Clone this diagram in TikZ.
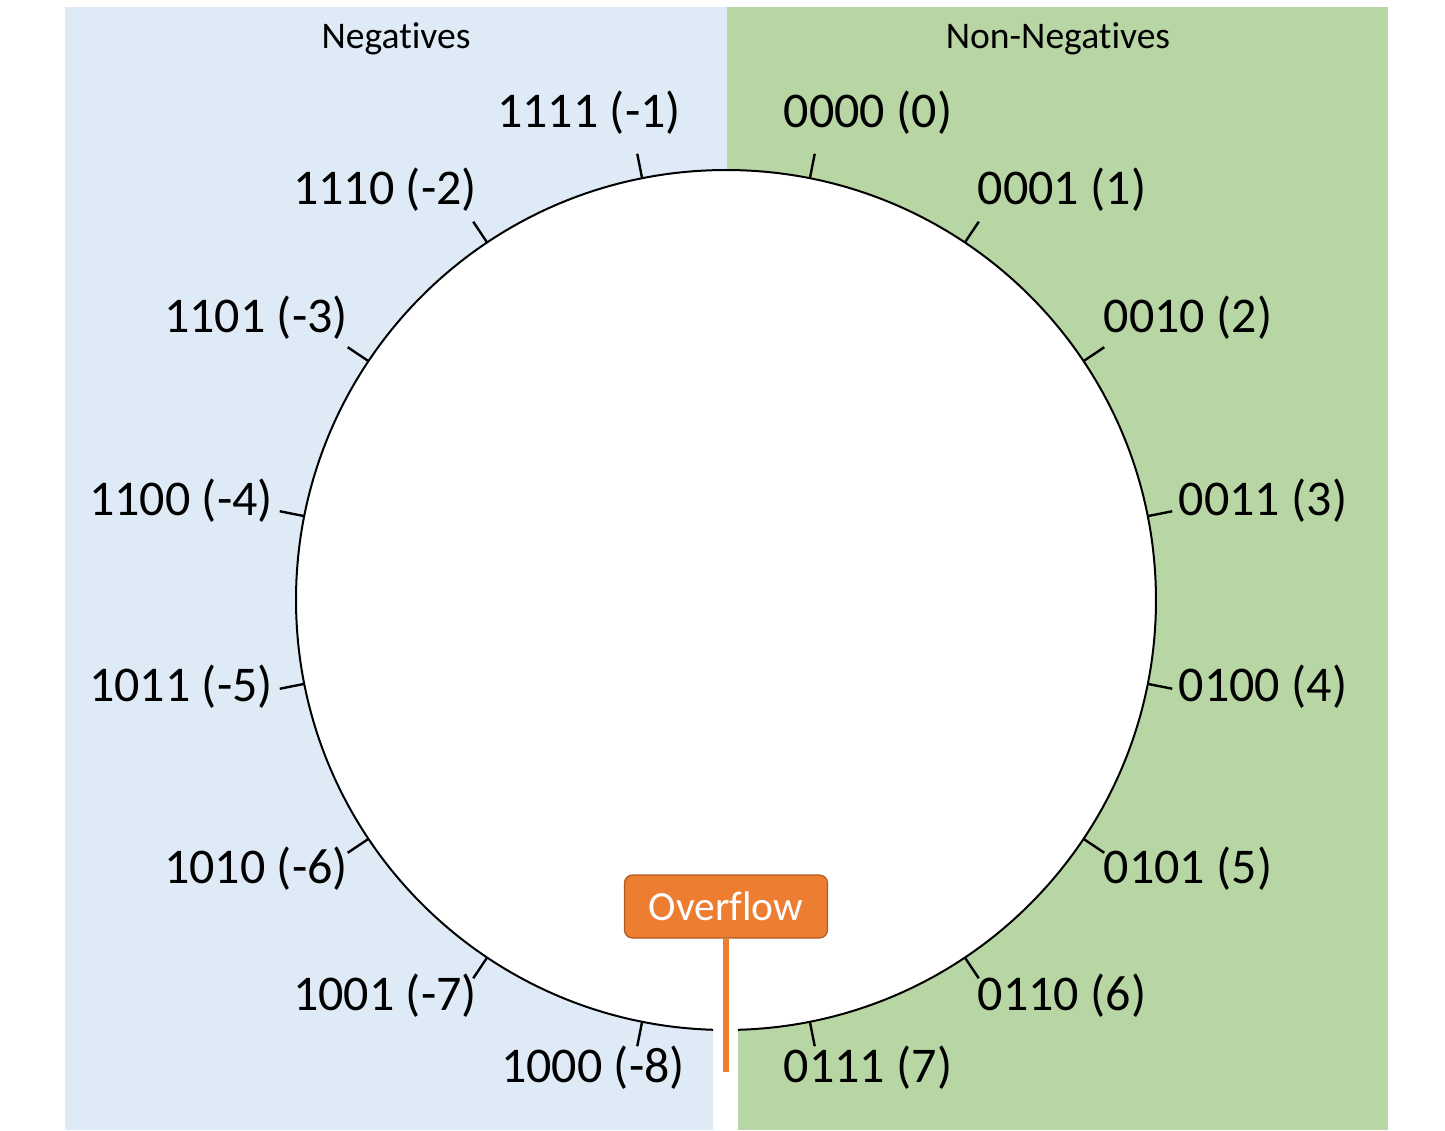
\documentclass[tikz,border=0pt]{standalone}
\usepackage{fontspec}
\setmainfont{Carlito}[Ligatures={NoCommon,NoRare}]
\usepackage{tikz}

\definecolor{negblue}{HTML}{DEEBF7}
\definecolor{nonneggreen}{HTML}{B8D5A4}
\definecolor{ovforange}{HTML}{ED7D31}
\definecolor{ovfborder}{HTML}{AE5A21}

\tikzset{
  numlabel/.style={inner sep=0pt,font=\fontsize{25}{29}\selectfont},
  sidehead/.style={inner sep=0pt,anchor=base,font=\fontsize{18.8}{22}\selectfont},
  ring/.style={line width=1pt},
  ticked/.style={line width=1.2pt},
  overflowbox/.style={draw=ovfborder,fill=ovforange,text=white,line width=0.6pt,
    rounded corners=4pt,minimum width=101.5pt,minimum height=31.5pt,
    font=\fontsize{20.7}{24}\selectfont},
  overflowline/.style={draw=ovforange,line width=3pt}
}

\begin{document}
\begin{tikzpicture}[x=0.5pt,y=0.5pt]
    \useasboundingbox (-726,-530) rectangle (719,600) ;
    \fill[negblue] (-661,-530) rectangle (1,593) ;
    \fill[nonneggreen] (1,-530) rectangle (662,593) ;
    \fill[white] (-13,0) rectangle (12,-530) ;

    \node[sidehead] (neghead) at (-330,551) {Negatives} ;
    \node[sidehead] (nonneghead) at (332,551) {Non-Negatives} ;

    \fill[white] (0,0) circle (215pt) ;
    \draw[ring] (-88.4:215pt) arc[start angle=-88.4, end angle=268.27, radius=215pt] ;
    \foreach \k in {0,...,15}
      \draw[ticked] (78.75-22.5*\k:215pt) -- (78.75-22.5*\k:227.5pt) ;

    \foreach \code/\val/\lx/\ly in {0000/0/142/487, 0001/1/336/410, 0010/2/462/282,
        0011/3/537/99, 0100/4/537/-87, 0101/5/462/-269, 0110/6/336/-396,
        0111/7/142/-468, 1000/-8/-133/-468, 1001/-7/-341/-396, 1010/-6/-470/-269,
        1011/-5/-545/-87, 1100/-4/-545/99, 1101/-3/-470/282, 1110/-2/-341/410,
        1111/-1/-137/487}
      \node[numlabel] (b\code) at (\lx,\ly) {\code\ (\val)} ;

    \node[overflowbox] (ovf) at (0,-306.5) {Overflow} ;
    \coordinate (ovfend) at (0,-472) ;
    \draw[overflowline] (ovf.south) -- (ovfend) ;
\end{tikzpicture}
\end{document}
